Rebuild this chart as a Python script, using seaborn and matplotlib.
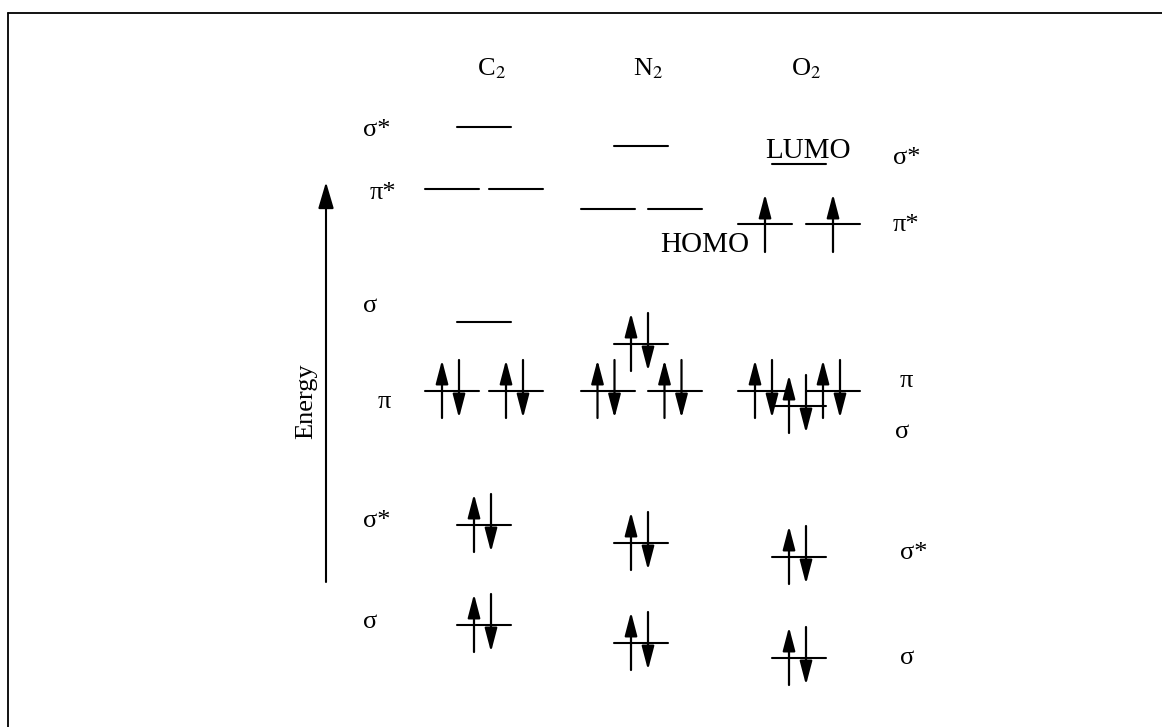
import matplotlib
matplotlib.use("Agg")
import matplotlib.pyplot as plt
import pandas as pd
import numpy as np
import seaborn as sns

# MO levels, energies in arbitrary units (bottom -> top)
molecules = ["C$_2$", "N$_2$", "O$_2$"]

c2_energy = [102, 202, 336, 405, 538, 600]
c2_degen = [1, 1, 2, 1, 2, 1]
c2_elec = [2, 2, 2, 0, 0, 0]

n2_energy = [84, 184, 336, 383, 518, 581]
n2_degen = [1, 1, 2, 1, 2, 1]
n2_elec = [2, 2, 2, 2, 0, 0]

o2_energy = [69, 170, 321, 336, 503, 563]
o2_degen = [1, 1, 1, 2, 2, 1]
o2_elec = [2, 2, 2, 2, 1, 0]

left_labels = ["σ", "σ*", "π", "σ", "π*", "σ*"]
left_label_energy = [105, 206, 325, 421, 534, 597]
right_labels = ["σ", "σ*", "σ", "π", "π*", "σ*"]
right_label_energy = [69, 174, 295, 346, 502, 569]

# layout
col_center = [484, 641, 799]
pair_offset = [32, 33.5, 34]
half_w = 27
W, H = 1162, 727

sns.set_theme(style="white")
plt.rcParams['font.family'] = ['Liberation Serif', 'DejaVu Serif']
plt.rcParams['mathtext.fontset'] = 'stix'
plt.rcParams['text.color'] = 'black'

fig = plt.figure(figsize=(W / 100, H / 100), dpi=100)
ax = fig.add_axes([0, 0, 1, 1])

# build segments table
rows = []
electrons = []
seg = 0
for i, (en, dg, el) in enumerate([(c2_energy, c2_degen, c2_elec),
                                  (n2_energy, n2_degen, n2_elec),
                                  (o2_energy, o2_degen, o2_elec)]):
    for e, d, n in zip(en, dg, el):
        if d == 1:
            centers = [col_center[i]]
        else:
            centers = [col_center[i] - pair_offset[i], col_center[i] + pair_offset[i]]
        for c in centers:
            rows.append((c - half_w, e, seg))
            rows.append((c + half_w, e, seg))
            seg += 1
            electrons.append((c, e, n))
levels = pd.DataFrame(rows, columns=["x", "energy", "seg"])

sns.lineplot(data=levels, x="x", y="energy", units="seg", estimator=None,
             sort=False, color="black", lw=1.5, ax=ax)

head = dict(arrowstyle="-|>,head_length=0.8,head_width=0.21", mutation_scale=18,
            color="black", lw=1.6, shrinkA=0, shrinkB=0)
for c, e, n in electrons:
    if n == 1:
        ax.annotate("", xy=(c, e + 30), xytext=(c, e - 28), arrowprops=head)
    elif n == 2:
        ax.annotate("", xy=(c - 10, e + 31), xytext=(c - 10, e - 27), arrowprops=head)
        ax.annotate("", xy=(c + 7, e - 27), xytext=(c + 7, e + 31), arrowprops=head)

# energy axis
ax.annotate("", xy=(326, 545), xytext=(326, 145),
            arrowprops=dict(arrowstyle="-|>,head_length=0.85,head_width=0.25",
                            mutation_scale=19, color="black", lw=1.5,
                            shrinkA=0, shrinkB=0))
ax.text(306, 326, "Energy", rotation=90, ha="center", va="center", fontsize=19)

for name, c in zip(molecules, col_center):
    ax.text(c + 7, 652, name, ha="center", va="baseline", fontsize=19)

left_x = [363, 363, 378, 363, 370, 363]
for lab, e, x in zip(left_labels, left_label_energy, left_x):
    ax.text(x, e, lab, ha="left", va="center", fontsize=19)
right_x = [900, 900, 895, 900, 893, 893]
for lab, e, x in zip(right_labels, right_label_energy, right_x):
    ax.text(x, e, lab, ha="left", va="center", fontsize=19)

ax.text(660, 475, "HOMO", ha="left", va="baseline", fontsize=21)
ax.text(765, 569, "LUMO", ha="left", va="baseline", fontsize=21)

# frame (top and left edge visible)
ax.plot([7.5, W + 5], [714.5, 714.5], color="black", lw=1.3, clip_on=False)
ax.plot([7.5, 7.5], [714.5, -5], color="black", lw=1.3, clip_on=False)

ax.set_xlim(0, W)
ax.set_ylim(0, H)
ax.axis("off")
fig.savefig("out.png", dpi=100)
